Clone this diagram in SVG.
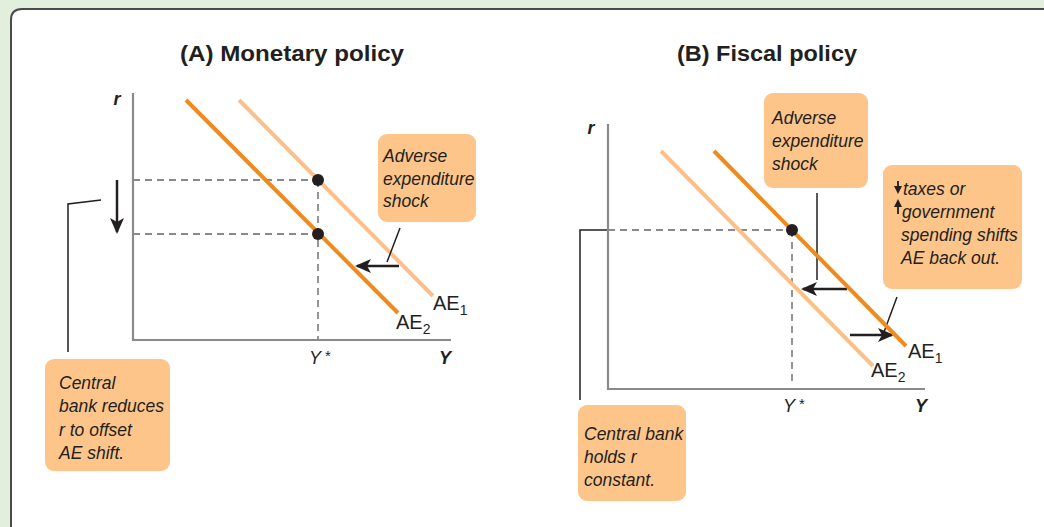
<svg xmlns="http://www.w3.org/2000/svg" width="1044" height="527" viewBox="0 0 1044 527">
<defs>
<style>
.t{font-family:"Liberation Sans",Arial,sans-serif;fill:#231f20}
.ti{font-family:"Liberation Sans",Arial,sans-serif;font-weight:bold;font-size:22px;fill:#231f20}
.box{fill:#fdc58a}
.bt{font-family:"Liberation Sans",Arial,sans-serif;font-style:italic;font-size:17.5px;fill:#231f20}
.ax{stroke:#8a8a8a;stroke-width:2.2;fill:none}
.dash{stroke:#8a8a8a;stroke-width:1.8;stroke-dasharray:7,5;fill:none}
.dk{stroke:#f08a1c;stroke-width:4;fill:none}
.lt{stroke:#fbc08a;stroke-width:4;fill:none}
.ln{stroke:#231f20;stroke-width:1.5;fill:none}
.ar{stroke:#231f20;stroke-width:2.5;fill:none}
.lab{font-family:"Liberation Sans",Arial,sans-serif;font-size:20px;fill:#231f20}
.axl{font-family:"Liberation Sans",Arial,sans-serif;font-style:italic;font-size:18px;fill:#231f20}
</style>
<marker id="ahb" markerWidth="16" markerHeight="16" refX="14" refY="8" orient="auto" markerUnits="userSpaceOnUse" viewBox="0 0 16 16">
<path d="M0,1 L16,8 L0,15 L4,8 Z" fill="#231f20"/>
</marker>
</defs>
<rect x="0" y="0" width="1044" height="527" fill="#e1efdc"/>
<path d="M1044,9 L22,9 Q11,9 11,20 L11,527 L1044,527 Z" fill="#ffffff"/>
<path d="M1044,9 L22,9 Q11,9 11,20 L11,527" fill="none" stroke="#4a4a4a" stroke-width="2"/>

<g id="panelA">
<text class="ti" x="292" y="61" text-anchor="middle" textLength="224" lengthAdjust="spacingAndGlyphs">(A) Monetary policy</text>
<text class="t" x="117" y="105" font-size="18" font-weight="bold" font-style="italic" text-anchor="middle">r</text>
<path class="ax" d="M133,93 L133,340 L451,340"/>
<path class="dash" d="M133,180 L318,180 M133,234 L318,234 M318,180 L318,340"/>
<line class="lt" x1="239" y1="100" x2="433" y2="296"/>
<line class="dk" x1="186" y1="100" x2="398" y2="313"/>
<circle cx="318" cy="180" r="6" fill="#231f20"/>
<circle cx="318" cy="234" r="6" fill="#231f20"/>
<text class="lab" x="433" y="310">AE<tspan font-size="14" dy="5">1</tspan></text>
<text class="lab" x="396" y="329">AE<tspan font-size="14" dy="5">2</tspan></text>
<text class="axl" x="320" y="364" text-anchor="middle">Y<tspan font-style="normal" font-size="15" dx="4" dy="-3">*</tspan></text>
<text class="axl" x="445" y="364" text-anchor="middle" font-weight="bold">Y</text>
</g>

<g id="connectors">
<line class="ar" x1="117" y1="180" x2="117" y2="232" marker-end="url(#ahb)"/>
<line class="ar" x1="399" y1="266" x2="357" y2="266" marker-end="url(#ahb)"/>
<line class="ar" x1="847" y1="289" x2="803" y2="289" marker-end="url(#ahb)"/>
<line class="ar" x1="850" y1="335" x2="892" y2="335" marker-end="url(#ahb)"/>
<polyline class="ln" points="101,200 68,204 68,352"/>
<line class="ln" x1="400" y1="228" x2="387" y2="262"/>
<polyline class="ln" points="608,230 580,230 580,400"/>
<line class="ln" x1="817" y1="193" x2="817" y2="280"/>
<line class="ln" x1="897" y1="297" x2="884" y2="332"/>
</g>

<g id="boxA1">
<rect class="box" x="378" y="134" width="98" height="88" rx="9"/>
<text class="bt" x="383" y="162">Adverse</text>
<text class="bt" x="383" y="185">expenditure</text>
<text class="bt" x="383" y="207">shock</text>
</g>

<g id="boxA2">
<rect class="box" x="45" y="359" width="125" height="112" rx="9"/>
<text class="bt" x="59" y="389">Central</text>
<text class="bt" x="59" y="412">bank reduces</text>
<text class="bt" x="59" y="436">r to offset</text>
<text class="bt" x="59" y="459">AE shift.</text>
</g>

<g id="panelB">
<text class="ti" x="767" y="61" text-anchor="middle" textLength="180" lengthAdjust="spacingAndGlyphs">(B) Fiscal policy</text>
<text class="t" x="591" y="134" font-size="18" font-weight="bold" font-style="italic" text-anchor="middle">r</text>
<path class="ax" d="M608,124 L608,389 L925,389"/>
<path class="dash" d="M608,230 L792,230 M792,230 L792,383"/>
<line class="lt" x1="661" y1="151" x2="873" y2="366"/>
<line class="dk" x1="714" y1="151" x2="906" y2="346"/>
<circle cx="792" cy="230" r="6" fill="#231f20"/>
<text class="lab" x="908" y="358">AE<tspan font-size="14" dy="5">1</tspan></text>
<text class="lab" x="871" y="377">AE<tspan font-size="14" dy="5">2</tspan></text>
<text class="axl" x="794" y="412" text-anchor="middle">Y<tspan font-style="normal" font-size="15" dx="4" dy="-3">*</tspan></text>
<text class="axl" x="921" y="412" text-anchor="middle" font-weight="bold">Y</text>
</g>

<g id="boxB1">
<rect class="box" x="764" y="93" width="104" height="95" rx="9"/>
<text class="bt" x="772" y="124">Adverse</text>
<text class="bt" x="772" y="147">expenditure</text>
<text class="bt" x="772" y="170">shock</text>
</g>

<g id="boxB2">
<rect class="box" x="883" y="165" width="139" height="124" rx="9"/>
<path d="M898,181 L898,188" stroke="#231f20" stroke-width="1.8"/>
<path d="M894,186 L902,186 L898,194 Z" fill="#231f20"/>
<path d="M894,207 L902,207 L898,199 Z" fill="#231f20"/>
<path d="M898,206 L898,214" stroke="#231f20" stroke-width="1.8"/>
<text class="bt" x="903" y="195">taxes or</text>
<text class="bt" x="902" y="218">government</text>
<text class="bt" x="901" y="241">spending shifts</text>
<text class="bt" x="901" y="264">AE back out.</text>
</g>

<g id="boxB3">
<rect class="box" x="578" y="405" width="108" height="96" rx="9"/>
<text class="bt" x="584" y="440">Central bank</text>
<text class="bt" x="584" y="463">holds r</text>
<text class="bt" x="584" y="486">constant.</text>
</g>
</svg>
